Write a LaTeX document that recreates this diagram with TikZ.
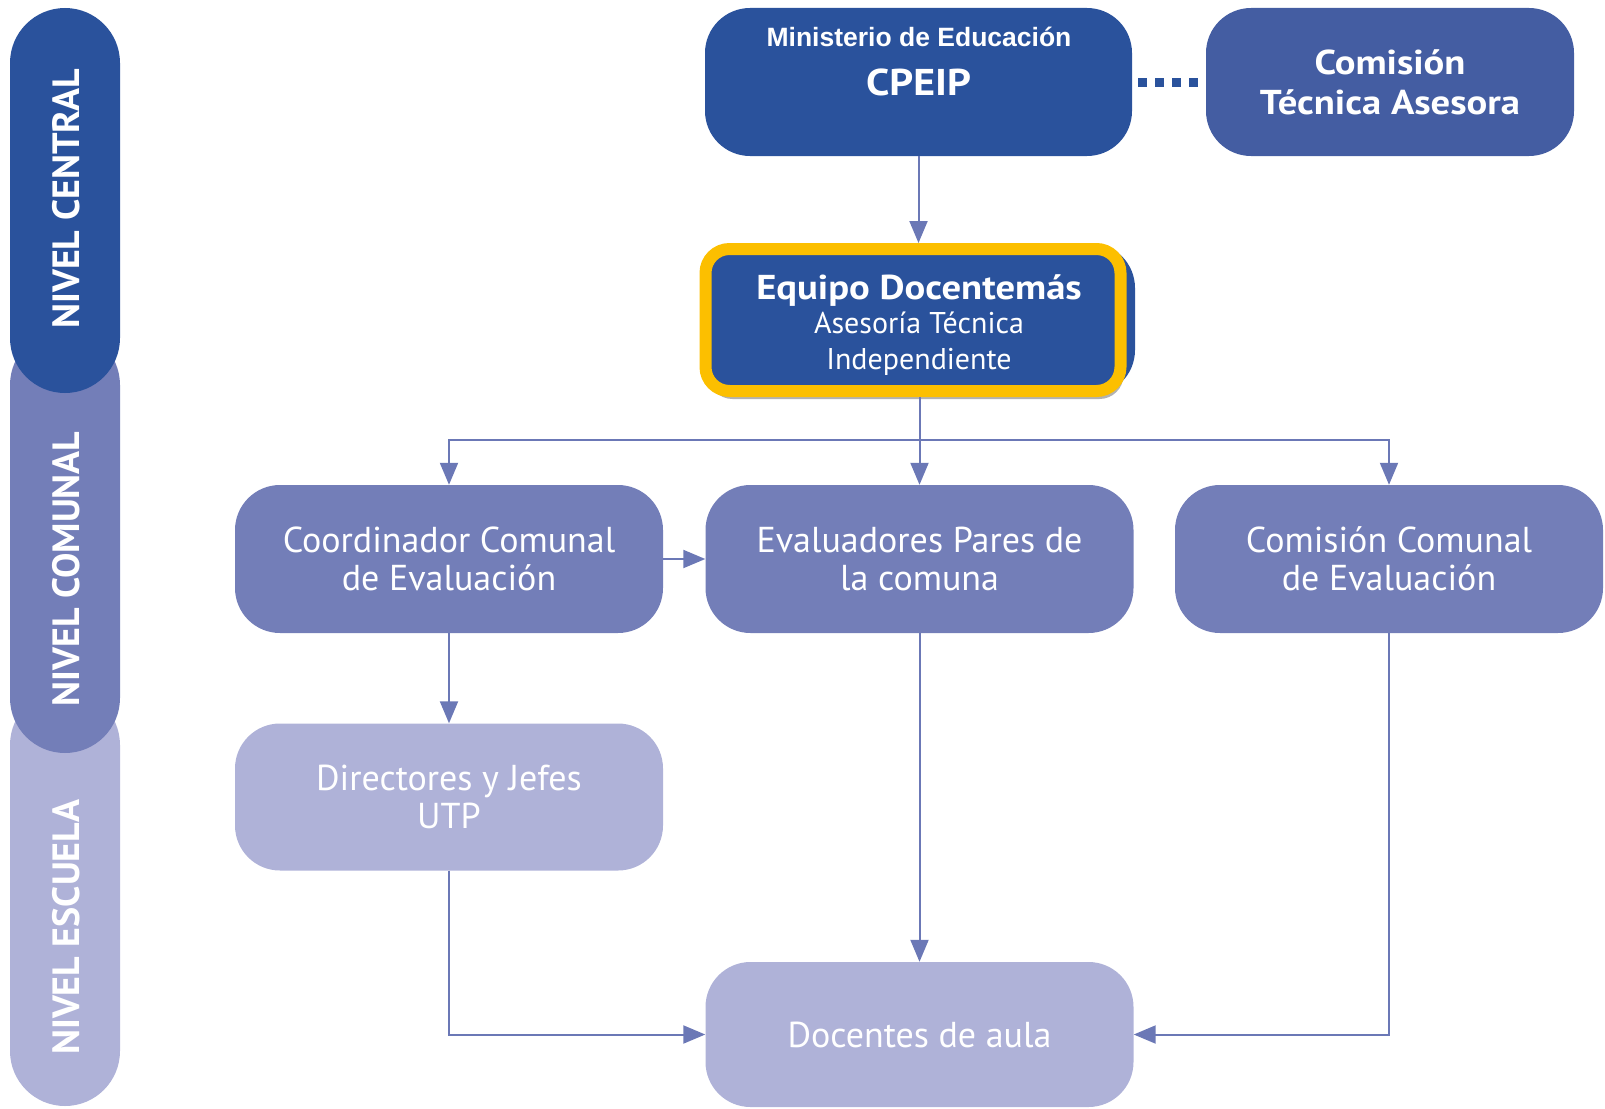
\documentclass[tikz,border=0pt]{standalone}
\usepackage{fontspec}
\setmainfont{PT Sans}
\newfontfamily\wsans[FakeStretch=1.12]{PT Sans}
\newfontfamily\arialfont{Liberation Sans}
\usetikzlibrary{arrows.meta,shadows}
\definecolor{dblue}{HTML}{2A529C}
\definecolor{cblue}{HTML}{445DA2}
\definecolor{mblue}{HTML}{737EB8}
\definecolor{lblue}{HTML}{AFB2D8}
\definecolor{lnc}{HTML}{6B78B6}
\definecolor{ylw}{HTML}{FCBF00}
\begin{document}
\begin{tikzpicture}[x=1pt,y=-1pt,
  box/.style={rounded corners=45pt, minimum width=428pt, minimum height=148pt, inner sep=0pt, align=center, text=white, font=\fontsize{36}{38}\selectfont},
  side/.style={rotate=90, inner sep=0pt, text=white, font=\bfseries\fontsize{38}{40}\selectfont},
  arr/.style={draw=lnc, line width=2pt, -{Triangle[length=22pt,width=18pt]}},
  dotc/.style={draw=dblue, line width=9pt, dash pattern=on 9pt off 8pt, shorten <=6pt, shorten >=6pt}
]
\useasboundingbox (0,0) rectangle (1605,1108);
% sidebar
\fill[lblue, rounded corners=55pt] (10,690) rectangle (120,1106);
\fill[mblue, rounded corners=55pt] (10,330) rectangle (120,753);
\fill[dblue, rounded corners=55pt] (10,8) rectangle (120,393);
\node[side] (tcen) at (66,199) {NIVEL CENTRAL};
\node[side] (tcom) at (66,569) {NIVEL COMUNAL};
\node[side] (tesc) at (66,927) {NIVEL ESCUELA};
% top row
\node[box, fill=dblue, minimum width=427pt, font=\wsans\bfseries\fontsize{37.3}{40}\selectfont] (min) at (918.5,82) {CPEIP};
\node[text=white, inner sep=0pt, font=\arialfont\bfseries\fontsize{26.5}{30}\selectfont] (mintxt) at (919,37) {Ministerio de Educación};
\node[box, fill=cblue, minimum width=368pt, font=\wsans\bfseries\fontsize{34.5}{40}\selectfont] (cta) at (1390,82) {Comisión\\Técnica Asesora};
% equipo
\node[box, fill=dblue, minimum width=429pt, minimum height=152pt] (eqbg) at (920.5,319) {};
\node[rounded corners=24pt, draw=ylw, line width=12pt, fill=dblue, minimum width=415pt, minimum height=142pt, inner sep=0pt,
  drop shadow={shadow xshift=3pt, shadow yshift=-8pt, opacity=0.3, fill=black}] (eq) at (913,320) {};
\node[text=white, align=center, inner sep=0pt, font=\fontsize{30}{36}\selectfont] (eqtxt) at (919,325)
  {{\wsans\bfseries\fontsize{34.5}{36}\selectfont Equipo Docentemás}\\[-2.5pt]Asesoría Técnica\\Independiente};
% second row
\node[box, fill=mblue] (coord) at (449,559) {Coordinador Comunal\\de Evaluación};
\node[box, fill=mblue] (eval) at (919.5,559) {Evaluadores Pares de\\la comuna};
\node[box, fill=mblue] (comc) at (1389,559) {Comisión Comunal\\de Evaluación};
% third row
\node[box, fill=lblue, minimum height=147pt] (dir) at (449,797) {Directores y Jefes\\UTP};
\node[box, fill=lblue, minimum height=145pt] (doc) at (919.5,1034.5) {Docentes de aula};
% connectors
\draw[dotc] (min.east) -- (cta.west);
\draw[arr] (min.south) -- (min.south |- eq.north);
\coordinate (hb) at (919.5,440);
\draw[arr] (eq.south -| eval.north) -- (eval.north);
\draw[arr] (hb) -| (coord.north);
\draw[arr] (hb) -| (comc.north);
\draw[arr] (coord.east) -- (eval.west);
\draw[arr] (coord.south) -- (dir.north);
\draw[arr] (eval.south) -- (doc.north);
\draw[arr] (dir.south) |- (doc.west);
\draw[arr] (comc.south) |- (doc.east);
\end{tikzpicture}
\end{document}
